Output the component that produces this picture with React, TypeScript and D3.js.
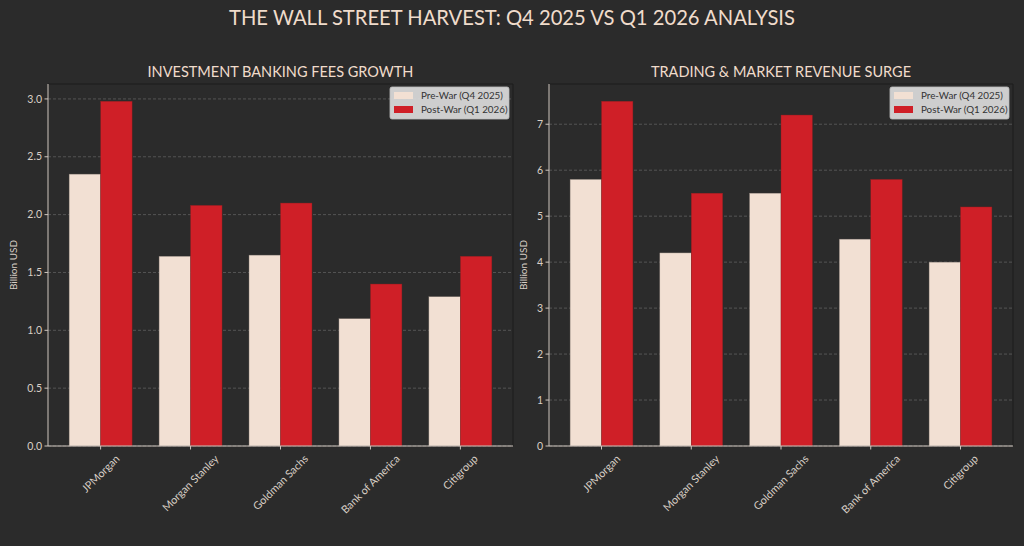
import React, { useEffect, useRef } from 'react';
import * as d3 from 'd3';

const banks = ['JPMorgan', 'Morgan Stanley', 'Goldman Sachs', 'Bank of America', 'Citigroup'];
const seriesNames = ['Pre-War (Q4 2025)', 'Post-War (Q1 2026)'];
const ibPre = [2.35, 1.64, 1.65, 1.1, 1.29];
const ibPost = [2.98, 2.08, 2.1, 1.4, 1.64];
const tradingPre = [5.8, 4.2, 5.5, 4.5, 4.0];
const tradingPost = [7.5, 5.5, 7.2, 5.8, 5.2];
const ibTicks = [0, 0.5, 1, 1.5, 2, 2.5, 3];
const tradingTicks = [0, 1, 2, 3, 4, 5, 6, 7];

const W = 1024;
const H = 546;
const BG = '#2b2b2b';
const TEXT = '#f0dccb';
const TICK = '#d9cfc6';
const PRE = '#f2e0d3';
const POST = '#cf1f27';
const FONT = 'Lato, "Noto Sans", sans-serif';

interface PanelSpec {
  left: number;
  right: number;
  title: string;
  pre: number[];
  post: number[];
  ticks: number[];
  fmt: (v: number) => string;
  ylabelOffset: number;
}

export default function App() {
  const svgRef = useRef<SVGSVGElement>(null);

  useEffect(() => {
    if (!svgRef.current) return;
    const svg = d3.select(svgRef.current);
    svg.selectAll('*').remove();

    svg.append('rect').attr('width', W).attr('height', H).attr('fill', BG);

    svg.append('text')
      .attr('x', W / 2).attr('y', 25)
      .attr('text-anchor', 'middle')
      .attr('fill', TEXT)
      .attr('font-family', FONT)
      .attr('font-size', 20.2)
      .text('THE WALL STREET HARVEST: Q4 2025 VS Q1 2026 ANALYSIS');

    const top = 84;
    const bottom = 446;

    const panels: PanelSpec[] = [
      { left: 48, right: 513, title: 'INVESTMENT BANKING FEES GROWTH', pre: ibPre, post: ibPost, ticks: ibTicks, fmt: d3.format('.1f'), ylabelOffset: 31 },
      { left: 549, right: 1013, title: 'TRADING & MARKET REVENUE SURGE', pre: tradingPre, post: tradingPost, ticks: tradingTicks, fmt: d3.format('d'), ylabelOffset: 22 },
    ];

    panels.forEach(p => {
      const g = svg.append('g');
      const maxV = d3.max(p.post)! * 1.05;
      const y = d3.scaleLinear().domain([0, maxV]).range([bottom, top]);
      const x = d3.scaleLinear().domain([-0.585, banks.length - 1 + 0.585]).range([p.left, p.right]);
      const bw = x(0.35) - x(0);

      // grid
      g.selectAll('.grid').data(p.ticks).enter().append('line')
        .attr('x1', p.left).attr('x2', p.right)
        .attr('y1', d => y(d)).attr('y2', d => y(d))
        .attr('stroke', '#606060').attr('stroke-width', 0.8)
        .attr('stroke-dasharray', '3,2');

      // bars
      g.selectAll('.pre').data(p.pre).enter().append('rect')
        .attr('x', (d, i) => x(i) - bw)
        .attr('y', d => y(d))
        .attr('width', bw)
        .attr('height', d => y(0) - y(d))
        .attr('fill', PRE)
        .attr('stroke', '#8a7f78').attr('stroke-width', 0.4);
      g.selectAll('.post').data(p.post).enter().append('rect')
        .attr('x', (d, i) => x(i))
        .attr('y', d => y(d))
        .attr('width', bw)
        .attr('height', d => y(0) - y(d))
        .attr('fill', POST)
        .attr('stroke', '#8a2020').attr('stroke-width', 0.4);

      // spines
      g.append('line').attr('x1', p.left).attr('x2', p.right).attr('y1', top).attr('y2', top)
        .attr('stroke', '#1c1c1c').attr('stroke-width', 1);
      g.append('line').attr('x1', p.right).attr('x2', p.right).attr('y1', top).attr('y2', bottom)
        .attr('stroke', '#1c1c1c').attr('stroke-width', 1);
      g.append('line').attr('x1', p.left).attr('x2', p.left).attr('y1', top).attr('y2', bottom)
        .attr('stroke', '#cfc6be').attr('stroke-width', 1);
      g.append('line').attr('x1', p.left).attr('x2', p.right).attr('y1', bottom).attr('y2', bottom)
        .attr('stroke', '#cfc6be').attr('stroke-width', 1);

      // y ticks
      g.selectAll('.yt').data(p.ticks).enter().append('line')
        .attr('x1', p.left - 3.5).attr('x2', p.left)
        .attr('y1', d => y(d)).attr('y2', d => y(d))
        .attr('stroke', '#cfc6be');
      g.selectAll('.yl').data(p.ticks).enter().append('text')
        .attr('x', p.left - 6).attr('y', d => y(d))
        .attr('dy', '0.35em')
        .attr('text-anchor', 'end')
        .attr('fill', TICK)
        .attr('font-family', FONT).attr('font-size', 10.5)
        .text(d => p.fmt(d));

      // x ticks
      g.selectAll('.xt').data(banks).enter().append('line')
        .attr('x1', (d, i) => x(i)).attr('x2', (d, i) => x(i))
        .attr('y1', bottom).attr('y2', bottom + 3.5)
        .attr('stroke', '#cfc6be');
      const fs = 10.8;
      g.selectAll('.xl').data(banks).enter().append('text')
        .attr('text-anchor', 'middle')
        .attr('dy', '0.35em')
        .attr('fill', TICK)
        .attr('font-family', FONT).attr('font-size', fs)
        .text(d => d)
        .each(function (d, i) {
          const len = (this as SVGTextElement).getComputedTextLength();
          const cy = bottom + 7 + (len + fs) * 0.3536;
          d3.select(this).attr('transform', `translate(${x(i)},${cy}) rotate(-45)`);
        });

      // title
      g.append('text')
        .attr('x', (p.left + p.right) / 2).attr('y', top - 7)
        .attr('text-anchor', 'middle')
        .attr('fill', TEXT)
        .attr('font-family', FONT).attr('font-size', 14.5)
        .text(p.title);

      // y label
      g.append('text')
        .attr('transform', `translate(${p.left - p.ylabelOffset},${(top + bottom) / 2}) rotate(-90)`)
        .attr('text-anchor', 'middle')
        .attr('fill', TICK)
        .attr('font-family', FONT).attr('font-size', 10)
        .text('Billion USD');

      // legend
      const lw = 119;
      const lh = 32;
      const lx = p.right - 4 - lw;
      const ly = top + 3;
      const leg = g.append('g').attr('transform', `translate(${lx},${ly})`);
      leg.append('rect').attr('width', lw).attr('height', lh).attr('rx', 2)
        .attr('fill', '#dcdcdc').attr('fill-opacity', 0.92)
        .attr('stroke', '#bdbdbd').attr('stroke-width', 0.8);
      const colors = [PRE, POST];
      seriesNames.forEach((name, i) => {
        leg.append('rect')
          .attr('x', 4).attr('y', 5 + i * 14)
          .attr('width', 19).attr('height', 7)
          .attr('fill', colors[i]);
        leg.append('text')
          .attr('x', 31).attr('y', 8.5 + i * 14)
          .attr('dy', '0.35em')
          .attr('fill', '#333333')
          .attr('font-family', FONT).attr('font-size', 9.8)
          .text(name);
      });
    });
  }, []);

  return (
    <div style={{ position: 'fixed', left: 0, top: 0, width: W, height: H, background: BG }}>
      <svg ref={svgRef} width={W} height={H} />
    </div>
  );
}
